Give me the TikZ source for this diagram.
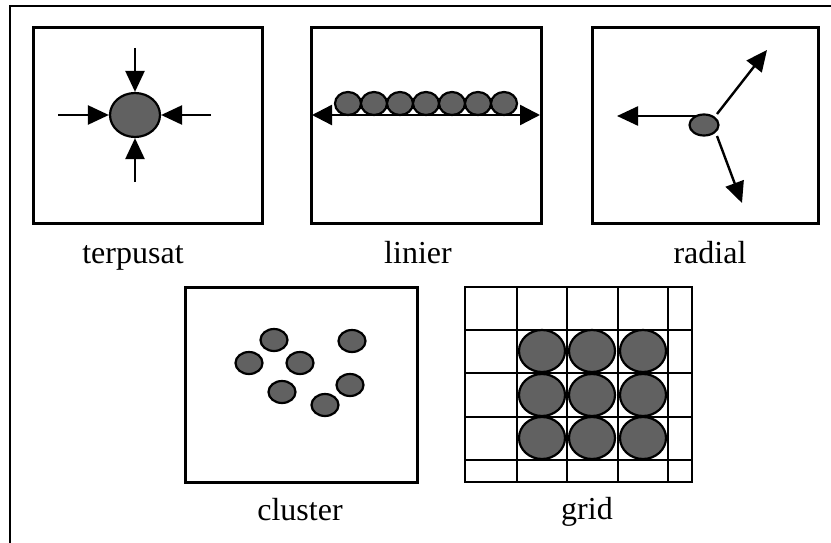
\documentclass[tikz,border=0pt]{standalone}
\usepackage{fontspec}
\setmainfont{Liberation Serif}
\usetikzlibrary{arrows.meta,shapes.geometric}
\begin{document}
\begin{tikzpicture}[x=1pt,y=-1pt,
  panel/.style={draw=black,line width=3pt},
  blob/.style={ellipse,draw=black,line width=2.2pt,fill=black!62,inner sep=0pt},
  head/.style={Triangle[length=21pt,width=19pt]},
  flow/.style={line width=2.4pt,-{Triangle[length=21pt,width=19pt]}},
  caption/.style={font=\fontsize{32}{34}\selectfont,anchor=base}]
\useasboundingbox (0,0) rectangle (831,543);
% outer frame (open on the right and bottom)
\draw[line width=2pt] (10,543) -- (10,6) -- (831,6);

% --- terpusat
\node[panel,minimum width=229pt,minimum height=195pt,inner sep=0pt] (pA) at (147.5,125.5) {};
\node[blob,minimum width=50pt,minimum height=44pt] (cA) at (135,115) {};
\coordinate (aN) at (135,48);
\coordinate (aS) at (135,182);
\coordinate (aW) at (58,115);
\coordinate (aE) at (211,115);
\draw[flow] (aN) -- (cA.north);
\draw[flow] (aS) -- (cA.south);
\draw[flow] (aW) -- (cA.west);
\draw[flow] (aE) -- (cA.east);
\node[caption] (tA) at (133,263) {terpusat};

% --- linier
\node[panel,minimum width=230pt,minimum height=195pt,inner sep=0pt] (pB) at (426,125.5) {};
\foreach \i in {0,...,6}
  \node[blob,minimum width=26pt,minimum height=23pt] (l\i) at (348+26*\i,103.5) {};
\coordinate (bW) at (312,115);
\coordinate (bE) at (540,115);
\draw[line width=2.4pt,{Triangle[length=20pt,width=20pt]}-{Triangle[length=20pt,width=20pt]}] (bW) -- (bE);
\node[caption] (tB) at (418,263) {linier};

% --- radial
\node[panel,minimum width=226pt,minimum height=195pt,inner sep=0pt] (pC) at (705,125.5) {};
\node[blob,minimum width=29pt,minimum height=21pt] (cC) at (704,125) {};
\coordinate (rW0) at (696,116);
\coordinate (rW) at (617,116);
\coordinate (rN0) at (717,114);
\coordinate (rN) at (767,50);
\coordinate (rS0) at (717,136);
\coordinate (rS) at (742,203);
\draw[flow] (rW0) -- (rW);
\draw[flow] (rN0) -- (rN);
\draw[flow] (rS0) -- (rS);
\node[caption] (tC) at (710,263) {radial};

% --- cluster
\node[panel,minimum width=232pt,minimum height=195pt,inner sep=0pt] (pD) at (301,384.5) {};
\foreach \n/\x/\y in {1/274/340,2/249/363,3/300/363,4/352/341,5/350/385,6/282/392,7/325/405}
  \node[blob,minimum width=27pt,minimum height=22pt] (k\n) at (\x,\y) {};
\node[caption] (tD) at (300,520) {cluster};

% --- grid
\node[panel,line width=2.4pt,minimum width=227pt,minimum height=195pt,inner sep=0pt] (pE) at (578.5,384.5) {};
\foreach \x in {517,567,618,668}
  \draw[line width=1.6pt] (\x,287) -- (\x,482);
\foreach \y in {330,373,417,460}
  \draw[line width=1.6pt] (465,\y) -- (692,\y);
\foreach \c/\x in {1/542,2/592,3/643}
  \foreach \r/\y in {1/351,2/395,3/438}
    \node[blob,minimum width=46pt,minimum height=42pt] (g\c\r) at (\x,\y) {};
\node[caption] (tE) at (587,519) {grid};
\end{tikzpicture}
\end{document}
